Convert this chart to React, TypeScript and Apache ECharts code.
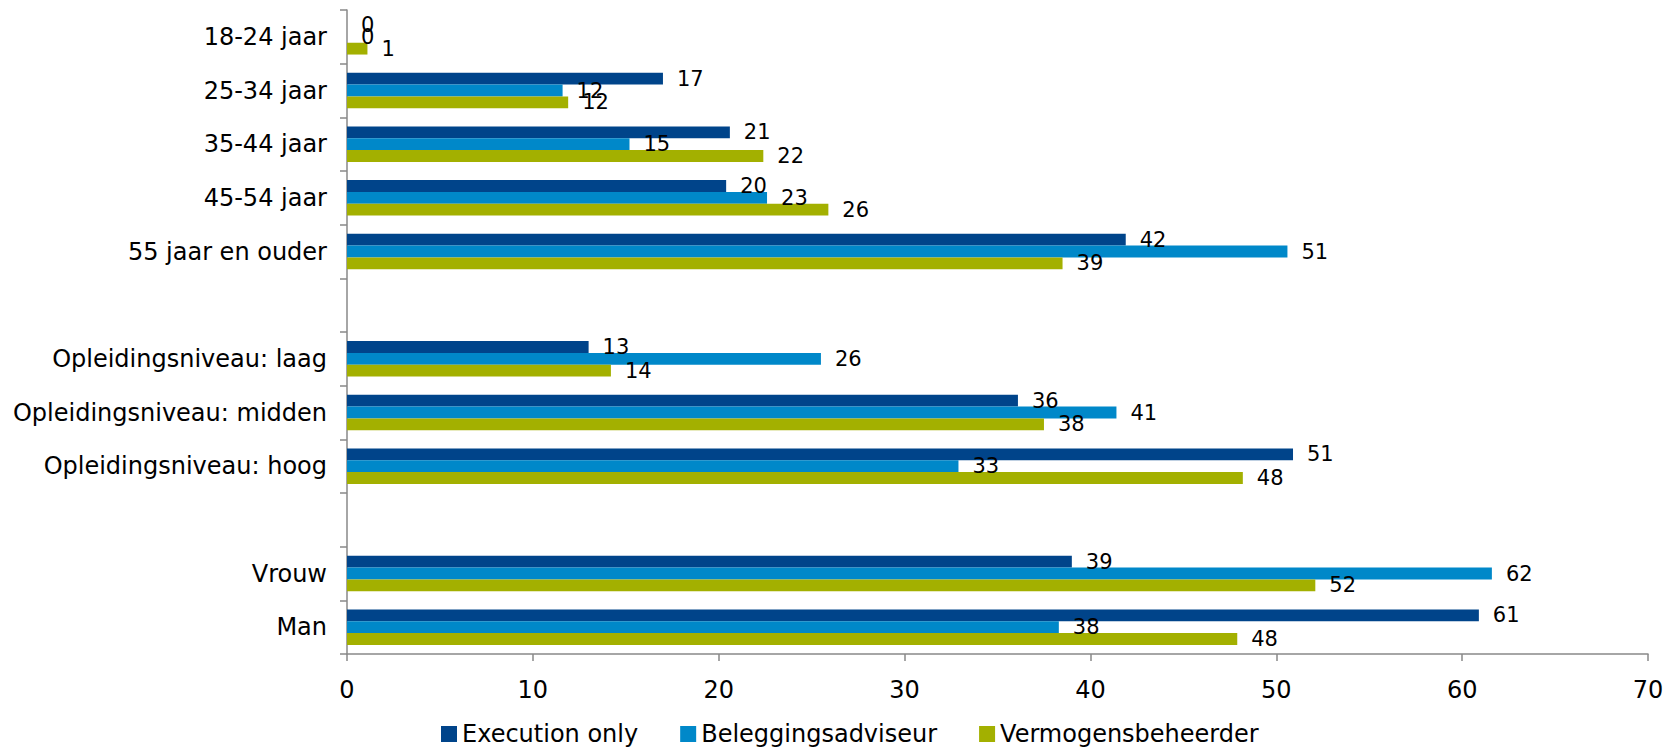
import React, { useEffect, useRef } from "react";
import * as echarts from "echarts";

const categories = [
  "18-24 jaar",
  "25-34 jaar",
  "35-44 jaar",
  "45-54 jaar",
  "55 jaar en ouder",
  " ",
  "Opleidingsniveau: laag",
  "Opleidingsniveau: midden",
  "Opleidingsniveau: hoog",
  "  ",
  "Vrouw",
  "Man",
];

const executionOnly = [0, 17.0, 20.6, 20.4, 41.9, null, 13.0, 36.1, 50.9, null, 39.0, 60.9];
const beleggingsadviseur = [0, 11.6, 15.2, 22.6, 50.6, null, 25.5, 41.4, 32.9, null, 61.6, 38.3];
const vermogensbeheerder = [1.1, 11.9, 22.4, 25.9, 38.5, null, 14.2, 37.5, 48.2, null, 52.1, 47.9];

const seriesNames = ["Execution only", "Beleggingsadviseur", "Vermogensbeheerder"];
const seriesColors = ["#00448A", "#0088C9", "#A3B000"];
const xTicks = { min: 0, max: 70, interval: 10 };

const FONT = "DejaVu Sans";

export default function App() {
  const ref = useRef<HTMLDivElement>(null);

  useEffect(() => {
    document.body.style.margin = "0";
    const chart = echarts.init(ref.current!, null, { renderer: "svg" });
    const datasets = [executionOnly, beleggingsadviseur, vermogensbeheerder];
    chart.setOption({
      animation: false,
      backgroundColor: "#ffffff",
      grid: { left: 347, right: 27, top: 10, bottom: 99 },
      legend: {
        bottom: 2,
        left: 436,
        itemWidth: 16,
        itemHeight: 16,
        itemGap: 42,
        icon: "rect",
        textStyle: { fontFamily: FONT, fontSize: 24, color: "#000" },
        data: seriesNames,
      },
      xAxis: {
        type: "value",
        min: xTicks.min,
        max: xTicks.max,
        interval: xTicks.interval,
        axisLine: { show: true, lineStyle: { color: "#898989", width: 1.5 } },
        axisTick: { show: true, length: 7, lineStyle: { color: "#898989", width: 1.5 } },
        splitLine: { show: false },
        axisLabel: { fontFamily: FONT, fontSize: 24, color: "#000", margin: 24 },
      },
      yAxis: {
        type: "category",
        inverse: true,
        data: categories,
        axisLine: { show: true, lineStyle: { color: "#898989", width: 1.5 } },
        axisTick: { show: true, length: 7, alignWithLabel: false, lineStyle: { color: "#898989", width: 1.5 } },
        axisLabel: { fontFamily: FONT, fontSize: 24, color: "#000", margin: 20 },
      },
      series: datasets.map((d, i) => ({
        name: seriesNames[i],
        type: "bar",
        data: d,
        barGap: "0%",
        barCategoryGap: "34%",
        itemStyle: { color: seriesColors[i] },
        label: {
          show: true,
          position: "right",
          distance: 14,
          fontFamily: FONT,
          fontSize: 21,
          color: "#000",
          formatter: (p: any) => (p.value == null ? "" : String(Math.round(p.value))),
        },
      })),
    });
    return () => chart.dispose();
  }, []);

  return <div ref={ref} style={{ width: 1675, height: 753 }} />;
}
